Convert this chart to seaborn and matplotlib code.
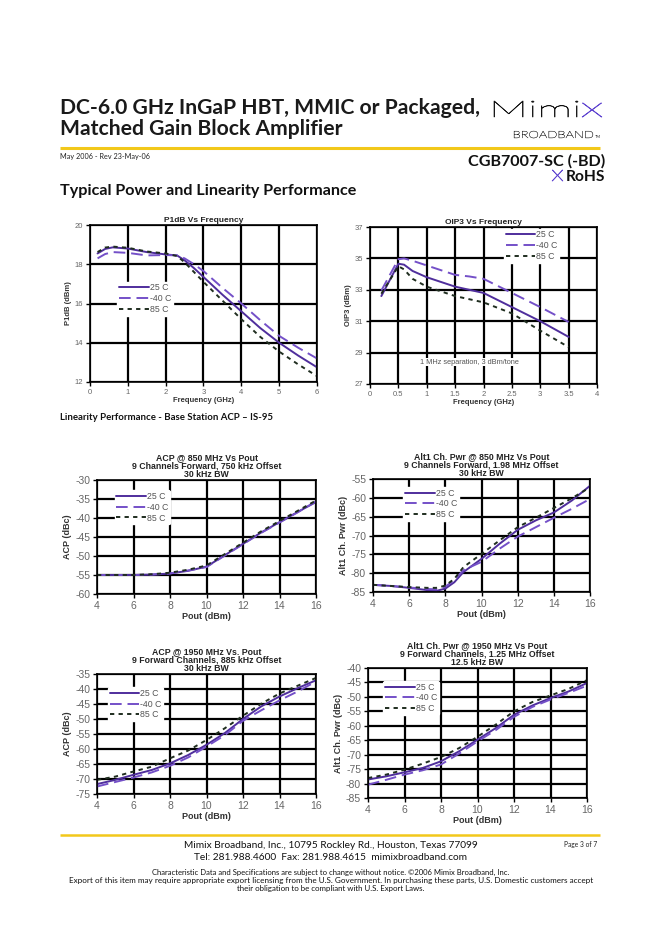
import matplotlib
matplotlib.use("Agg")
import matplotlib.pyplot as plt
import seaborn as sns
import pandas as pd
from matplotlib.textpath import TextPath
from matplotlib.font_manager import FontProperties
from matplotlib.patches import PathPatch
from matplotlib.transforms import Affine2D

sns.set_theme(style="white")
plt.rcParams['font.family'] = ['Liberation Sans', 'DejaVu Sans']
plt.rcParams['axes.unicode_minus'] = False

# ---------------- data ----------------
temps = ["25 C", "-40 C", "85 C"]

p1_freq = [0.2, 0.4, 0.6, 1, 1.5, 2, 2.3, 2.5, 2.75, 3, 3.5, 4, 4.5, 5, 5.5, 6]
p1_25 = [18.55, 18.78, 18.86, 18.8, 18.62, 18.5, 18.45, 18.2, 17.8, 17.35, 16.45, 15.6, 14.75, 14.0, 13.35, 12.75]
p1_m40 = [18.3, 18.52, 18.62, 18.58, 18.45, 18.47, 18.45, 18.3, 18.0, 17.65, 16.8, 16.0, 15.15, 14.35, 13.75, 13.2]
p1_85 = [18.62, 18.85, 18.9, 18.84, 18.65, 18.55, 18.42, 18.1, 17.6, 17.1, 16.15, 15.2, 14.3, 13.55, 12.9, 12.3]

ip3_freq = [0.2, 0.5, 0.6, 0.75, 1, 1.5, 1.75, 2, 2.5, 3, 3.5]
ip3_25 = [32.6, 34.66, 34.6, 34.2, 33.8, 33.2, 33.0, 32.8, 31.9, 31.0, 30.0]
ip3_m40 = [32.95, 34.95, 35.0, 34.85, 34.55, 33.95, 33.85, 33.7, 32.8, 31.9, 30.95]
ip3_85 = [32.75, 34.5, 34.3, 33.7, 33.2, 32.6, 32.4, 32.2, 31.5, 30.4, 29.35]

acp850_pout = [4, 5, 6, 7, 8, 9, 10, 11, 12, 13, 14, 15, 16]
acp850_25 = [-55, -55, -55, -54.9, -54.6, -53.9, -52.8, -49.8, -46.8, -43.8, -41.1, -38.4, -35.8]
acp850_m40 = [-55, -55, -55, -54.9, -54.6, -53.8, -52.9, -49.9, -46.9, -43.9, -41.2, -38.5, -35.6]
acp850_85 = [-55, -55, -55, -54.8, -54.4, -53.6, -52.5, -49.5, -46.5, -43.5, -40.8, -38.1, -35.4]

alt850_pout = [4, 5, 6, 7, 7.5, 8, 8.5, 9, 10, 11, 12, 13, 14, 15, 16]
alt850_25 = [-83.1, -83.4, -83.9, -84.5, -84.7, -84.1, -82.4, -79.7, -76.2, -72.2, -68.5, -66.0, -63.9, -60.7, -56.8]
alt850_m40 = [-83.1, -83.4, -83.8, -84.2, -84.3, -83.6, -81.8, -79.2, -77.0, -73.5, -70.3, -67.8, -65.3, -62.9, -60.3]
alt850_85 = [-83.1, -83.4, -83.7, -83.9, -83.9, -83.3, -81.5, -78.4, -74.9, -71.3, -67.8, -65.3, -62.7, -60.1, -57.2]

acp1950_pout = [4, 5, 6, 7, 8, 9, 10, 11, 12, 13, 14, 15, 16]
acp1950_25 = [-71.7, -70.3, -68.6, -67.0, -64.8, -62.0, -58.6, -54.7, -50.0, -45.8, -42.5, -39.7, -37.1]
acp1950_m40 = [-72.5, -71.0, -69.5, -67.8, -65.6, -62.8, -59.2, -55.4, -50.6, -47.1, -43.8, -40.8, -37.5]
acp1950_85 = [-70.3, -69.2, -67.5, -65.9, -63.1, -60.5, -57.0, -53.1, -48.9, -44.9, -41.5, -38.9, -36.3]

alt1950_pout = [4, 5, 6, 7, 8, 9, 10, 11, 12, 13, 14, 15, 16]
alt1950_25 = [-78.6, -77.5, -76.1, -74.6, -72.3, -68.8, -64.8, -60.8, -56.2, -53.0, -50.4, -48.1, -45.2]
alt1950_m40 = [-80.4, -78.7, -76.9, -75.4, -73.4, -69.6, -65.4, -61.5, -56.9, -53.5, -50.9, -48.6, -46.1]
alt1950_85 = [-78.1, -76.9, -75.2, -73.1, -70.8, -67.7, -63.8, -59.6, -55.0, -51.8, -49.5, -47.2, -44.2]

# ---------------- styles ----------------
W, H = 662, 936
COL25 = "#4f2e9c"
COLM40 = "#7450c8"
PURPLE = "#5f44d0"
STY = {"25 C": dict(color=COL25, linestyle="-"),
       "-40 C": dict(color=COLM40, linestyle=(0, (6, 3))),
       "85 C": dict(color="#1f2d1f", linestyle=(0, (2.2, 2.2)))}
YEL = "#f2c81a"

fig = plt.figure(figsize=(W / 100, H / 100), dpi=100)
fig.patch.set_facecolor("white")

page = fig.add_axes([0, 0, 1, 1], zorder=-5)
page.set_xlim(0, W)
page.set_ylim(H, 0)
page.axis("off")


def ftext(x, y, s, **kw):
    kw.setdefault("va", "center")
    return page.text(x, y, s, **kw)


def fit_path(s, box, color, family="Lato", weight="normal", lw=0.0):
    """Draw text s as a path, stretched to fill box (x0, ytop, x1, ybaseline)."""
    fp = FontProperties(family=family, weight=weight)
    tp = TextPath((0, 0), s, size=20, prop=fp)
    ext = tp.get_extents()
    x0, ytop, x1, ybase = box
    sx = (x1 - x0) / ext.width
    sy = (ybase - ytop) / ext.y1
    tr = Affine2D().translate(-ext.x0, 0).scale(sx, -sy).translate(x0, ybase)
    patch = PathPatch(tr.transform_path(tp), facecolor=color,
                      edgecolor=color if lw else "none", lw=lw)
    page.add_patch(patch)


def ax_at(x0, y0, x1, y1):
    return fig.add_axes([x0 / W, 1 - y1 / H, (x1 - x0) / W, (y1 - y0) / H])


def chart(box, xs, series, xlim, ylim, xticks, yticks, title, xlabel, ylabel,
          leg_anchor, small=True, xfmt=None, lw=1.4):
    ax = ax_at(*box)
    for t, ys in zip(temps, series):
        df = pd.DataFrame({"x": xs, "y": ys})
        sns.lineplot(data=df, x="x", y="y", ax=ax, label=t, lw=lw,
                     sort=False, **STY[t])
    ax.set_xlim(*xlim)
    ax.set_ylim(*ylim)
    ax.set_xticks(xticks)
    ax.set_yticks(yticks)
    if xfmt:
        ax.set_xticklabels([xfmt(v) for v in xticks])
    ax.grid(True, color="black", lw=1.6)
    ax.set_axisbelow(True)
    for s in ax.spines.values():
        s.set_color("black")
        s.set_linewidth(1.2)
    tfs = 5.5 if small else 7.5
    ax.tick_params(axis="both", labelsize=tfs, colors="#666666", length=3,
                   width=1, direction="out", pad=2, left=True, bottom=True)
    ax.tick_params(axis="both", color="black")
    lfs = 5.5 if small else 6.5
    ax.set_xlabel(xlabel, fontsize=lfs, fontweight="bold", color="#333333", labelpad=1)
    ax.set_ylabel(ylabel, fontsize=lfs, fontweight="bold", color="#333333", labelpad=2)
    ax.set_title(title, fontsize=6 if small else 6.3, fontweight="bold",
                 color="#222222", pad=2, linespacing=0.95)
    leg = ax.legend(loc="upper left", bbox_to_anchor=leg_anchor,
                    fontsize=6.3, frameon=True, facecolor="white", edgecolor="white",
                    framealpha=1, handlelength=3.4, handletextpad=0.1,
                    labelspacing=0.2, borderpad=0.2, borderaxespad=0)
    for txt in leg.get_texts():
        txt.set_color("#555555")
    return ax


# --- top charts
chart((90, 225, 317, 382), p1_freq, [p1_25, p1_m40, p1_85], (0, 6), (12, 20),
      range(0, 7), range(12, 21, 2), "P1dB Vs Frequency", "Frequency (GHz)",
      "P1dB (dBm)", (0.12, 0.64))

ax2 = chart((370, 227, 597, 384), ip3_freq, [ip3_25, ip3_m40, ip3_85], (0, 4), (27, 37),
            [0, 0.5, 1, 1.5, 2, 2.5, 3, 3.5, 4], range(27, 38, 2), "OIP3 Vs Frequency",
            "Frequency (GHz)", "OIP3 (dBm)", (0.59, 0.99),
            xfmt=lambda v: f"{v:g}")
ax2.text(1.75, 28.4, "1 MHz separation, 3 dBm/tone", fontsize=5.3, color="#555555",
         ha="center", va="center",
         bbox=dict(facecolor="white", edgecolor="none", pad=0.5))

# --- bottom charts
chart((97, 480, 316, 594), acp850_pout, [acp850_25, acp850_m40, acp850_85], (4, 16), (-60, -30),
      range(4, 17, 2), range(-60, -29, 5),
      "ACP @ 850 MHz Vs Pout\n9 Channels Forward, 750 kHz Offset\n30 kHz BW",
      "Pout (dBm)", "ACP (dBc)", (0.08, 0.91), small=False)

chart((373, 479, 590, 592), alt850_pout, [alt850_25, alt850_m40, alt850_85], (4, 16), (-85, -55),
      range(4, 17, 2), range(-85, -54, 5),
      "Alt1 Ch. Pwr @ 850 MHz Vs Pout\n9 Channels Forward, 1.98 MHz Offset\n30 kHz BW",
      "Pout (dBm)", "Alt1 Ch. Pwr (dBc)", (0.14, 0.93), small=False)

chart((97, 674, 316, 794), acp1950_pout, [acp1950_25, acp1950_m40, acp1950_85], (4, 16), (-75, -35),
      range(4, 17, 2), range(-75, -34, 5),
      "ACP @ 1950 MHz Vs. Pout\n9 Forward Channels, 885 kHz Offset\n30 kHz BW",
      "Pout (dBm)", "ACP (dBc)", (0.05, 0.89), small=False)

chart((368, 668, 587, 798), alt1950_pout, [alt1950_25, alt1950_m40, alt1950_85], (4, 16), (-85, -40),
      range(4, 17, 2), range(-85, -39, 5),
      "Alt1 Ch. Pwr @ 1950 MHz Vs Pout\n9 Forward Channels, 1.25 MHz Offset\n12.5 kHz BW",
      "Pout (dBm)", "Alt1 Ch. Pwr (dBc)", (0.07, 0.9), small=False)

# ---------------- page decoration ----------------
HF = ["Lato", "DejaVu Sans"]
ftext(60, 108, "DC-6.0 GHz InGaP HBT, MMIC or Packaged,", fontsize=15.2,
      fontweight="bold", family=HF, color="#1a1a1a")
ftext(60, 129, "Matched Gain Block Amplifier", fontsize=15.2,
      fontweight="bold", family=HF, color="#1a1a1a")
# logo
fit_path("Mimi", (494, 101, 578, 117), "#111111", weight="light", lw=0.45)
fit_path("x", (582, 103, 602, 117), PURPLE, weight="light", lw=0.5)
fit_path("BROADBAND", (514, 131, 593, 138), "#222222", weight="light", lw=0.2)
ftext(595, 137, "TM", fontsize=2.8, family=HF, ha="left", color="#222222")
page.plot([60, 600], [148, 148], color=YEL, lw=2.2, solid_capstyle="butt")
ftext(60, 157, "May 2006 - Rev 23-May-06", fontsize=5.2, family=HF, color="#222222")
ftext(605, 161, "CGB7007-SC (-BD)", fontsize=11.6, fontweight="bold", family=HF,
      ha="right", color="#111111")
ftext(605, 177, "RoHS", fontsize=11.2, fontweight="bold", family=HF, ha="right", color="#111111")
fit_path("x", (552, 170, 563, 181), PURPLE, weight="light", lw=0.5)
ftext(60, 191, "Typical Power and Linearity Performance", fontsize=11.6, fontweight="bold",
      family=HF, color="#111111")
ftext(60, 418, "Linearity Performance - Base Station ACP \u2013 IS-95", fontsize=6.9,
      fontweight="bold", family=HF, color="#111111")

page.plot([60, 600], [835, 835], color=YEL, lw=1.8, solid_capstyle="butt")
ftext(331, 846, "Mimix Broadband, Inc., 10795 Rockley Rd., Houston, Texas 77099",
      fontsize=7.3, family=HF, ha="center", color="#111111")
ftext(331, 858, "Tel: 281.988.4600  Fax: 281.988.4615  mimixbroadband.com",
      fontsize=7.3, family=HF, ha="center", color="#111111")
ftext(597, 845, "Page 3 of 7", fontsize=4.8, family=HF, ha="right", color="#222222")
ftext(331, 872, "Characteristic Data and Specifications are subject to change without notice. \u00a92006 Mimix Broadband, Inc.",
      fontsize=5.5, family=HF, ha="center", color="#111111")
ftext(331, 880, "Export of this item may require appropriate export licensing from the U.S. Government. In purchasing these parts, U.S. Domestic customers accept",
      fontsize=5.9, family=HF, ha="center", color="#111111")
ftext(331, 888, "their obligation to be compliant with U.S. Export Laws.",
      fontsize=5.7, family=HF, ha="center", color="#111111")

fig.savefig("out.png", dpi=100, facecolor="white")
